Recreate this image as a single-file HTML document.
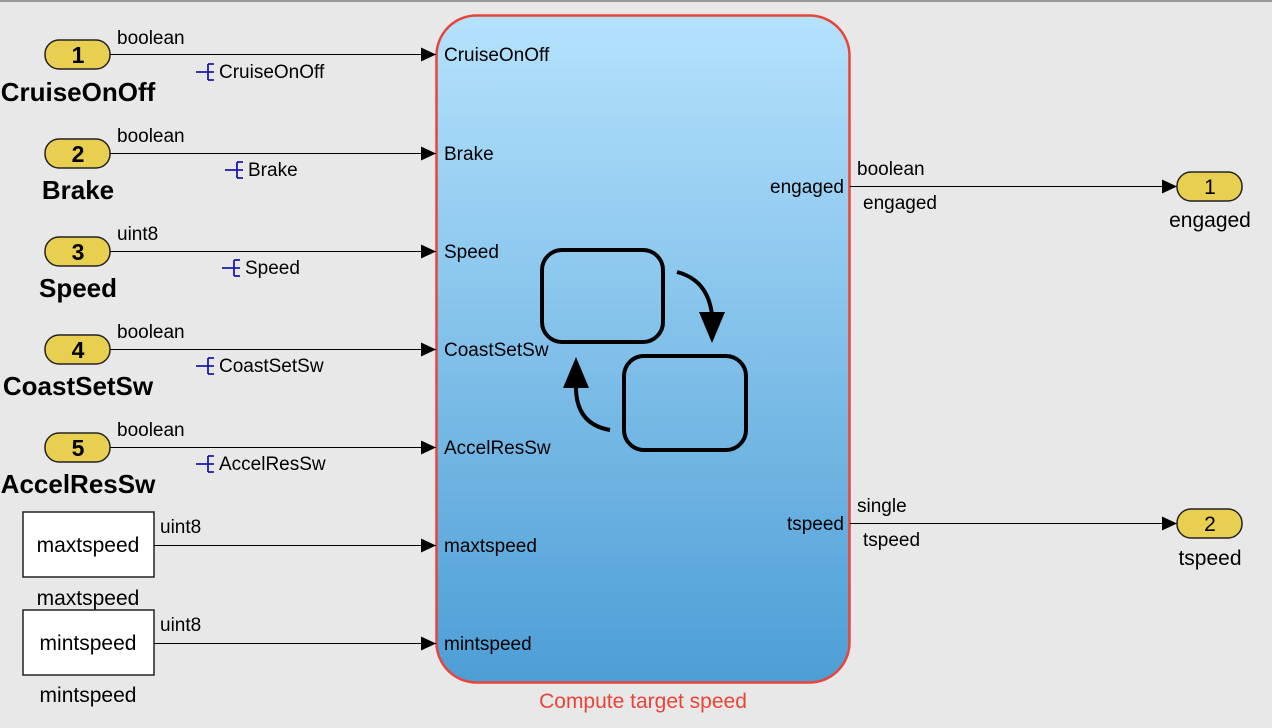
<!DOCTYPE html>
<html><head><style>
body{margin:0;background:#e8e8e8;}
svg{display:block;font-family:"Liberation Sans",sans-serif;}
</style></head><body>
<svg width="1272" height="728" viewBox="0 0 1272 728" xmlns="http://www.w3.org/2000/svg">
<defs>
<linearGradient id="g" x1="0" y1="0" x2="0" y2="1">
<stop offset="0" stop-color="#b5e2fd"/><stop offset="1" stop-color="#4d9ed6"/>
</linearGradient>
<marker id="a" markerWidth="15" markerHeight="14" refX="15" refY="7" orient="auto" markerUnits="userSpaceOnUse"><path d="M0,0 L15,7 L0,14 z" fill="#000"/></marker>
</defs>
<rect width="1272" height="728" fill="#e8e8e8"/>
<line x1="0" y1="1" x2="1272" y2="1" stroke="#999" stroke-width="2"/>
<rect x="436.5" y="15.5" width="413" height="667" rx="40" fill="url(#g)" stroke="#e8443a" stroke-width="2.5"/>
<g font-size="19" fill="#000">
<g>
<rect x="45" y="40" width="65" height="29" rx="14" fill="#e8cf50" stroke="#222" stroke-width="1.5"/>
<text x="78" y="63" text-anchor="middle" font-size="23" font-weight="bold">1</text>
<text x="78" y="101" text-anchor="middle" font-size="26" font-weight="bold">CruiseOnOff</text>
<line x1="110" y1="54.5" x2="436" y2="54.5" stroke="#000" marker-end="url(#a)"/>
<text x="117" y="44">boolean</text>
<text x="219" y="78">CruiseOnOff</text>
<text x="444" y="61">CruiseOnOff</text>
</g>
<g>
<rect x="45" y="139" width="65" height="29" rx="14" fill="#e8cf50" stroke="#222" stroke-width="1.5"/>
<text x="78" y="162" text-anchor="middle" font-size="23" font-weight="bold">2</text>
<text x="78" y="199" text-anchor="middle" font-size="26" font-weight="bold">Brake</text>
<line x1="110" y1="153.5" x2="436" y2="153.5" stroke="#000" marker-end="url(#a)"/>
<text x="117" y="142">boolean</text>
<text x="248" y="176">Brake</text>
<text x="444" y="160">Brake</text>
</g>
<g>
<rect x="45" y="237" width="65" height="29" rx="14" fill="#e8cf50" stroke="#222" stroke-width="1.5"/>
<text x="78" y="260" text-anchor="middle" font-size="23" font-weight="bold">3</text>
<text x="78" y="297" text-anchor="middle" font-size="26" font-weight="bold">Speed</text>
<line x1="110" y1="251.5" x2="436" y2="251.5" stroke="#000" marker-end="url(#a)"/>
<text x="117" y="240">uint8</text>
<text x="245" y="274">Speed</text>
<text x="444" y="258">Speed</text>
</g>
<g>
<rect x="45" y="335" width="65" height="29" rx="14" fill="#e8cf50" stroke="#222" stroke-width="1.5"/>
<text x="78" y="358" text-anchor="middle" font-size="23" font-weight="bold">4</text>
<text x="78" y="395" text-anchor="middle" font-size="26" font-weight="bold">CoastSetSw</text>
<line x1="110" y1="349.5" x2="436" y2="349.5" stroke="#000" marker-end="url(#a)"/>
<text x="117" y="338">boolean</text>
<text x="219" y="372">CoastSetSw</text>
<text x="444" y="356">CoastSetSw</text>
</g>
<g>
<rect x="45" y="433" width="65" height="29" rx="14" fill="#e8cf50" stroke="#222" stroke-width="1.5"/>
<text x="78" y="456" text-anchor="middle" font-size="23" font-weight="bold">5</text>
<text x="78" y="493" text-anchor="middle" font-size="26" font-weight="bold">AccelResSw</text>
<line x1="110" y1="447.5" x2="436" y2="447.5" stroke="#000" marker-end="url(#a)"/>
<text x="117" y="436">boolean</text>
<text x="219" y="470">AccelResSw</text>
<text x="444" y="454">AccelResSw</text>
</g>
<g stroke="#1a1aa8" stroke-width="1.8" fill="none">
<path d="M196,72 H208 M208,64 V80 M208,64 H214 M208,72 H214 M208,80 H214"/>
<path d="M225,170 H237 M237,162 V178 M237,162 H243 M237,170 H243 M237,178 H243"/>
<path d="M222,268 H234 M234,260 V276 M234,260 H240 M234,268 H240 M234,276 H240"/>
<path d="M196,366 H208 M208,358 V374 M208,358 H214 M208,366 H214 M208,374 H214"/>
<path d="M196,464 H208 M208,456 V472 M208,456 H214 M208,464 H214 M208,472 H214"/>
</g>
<rect x="23" y="512" width="131" height="65" fill="#fff" stroke="#222" stroke-width="1.5"/>
<text x="88" y="552" text-anchor="middle" font-size="21">maxtspeed</text>
<text x="88" y="605" text-anchor="middle" font-size="21">maxtspeed</text>
<line x1="154" y1="545.5" x2="436" y2="545.5" stroke="#000" marker-end="url(#a)"/>
<text x="160" y="533">uint8</text>
<text x="444" y="552">maxtspeed</text>
<rect x="23" y="610" width="131" height="65" fill="#fff" stroke="#222" stroke-width="1.5"/>
<text x="88" y="650" text-anchor="middle" font-size="21">mintspeed</text>
<text x="88" y="702" text-anchor="middle" font-size="21">mintspeed</text>
<line x1="154" y1="643.5" x2="436" y2="643.5" stroke="#000" marker-end="url(#a)"/>
<text x="160" y="631">uint8</text>
<text x="444" y="650">mintspeed</text>
<text x="844" y="193" text-anchor="end">engaged</text>
<line x1="850" y1="186.5" x2="1177" y2="186.5" stroke="#000" marker-end="url(#a)"/>
<text x="857" y="175">boolean</text>
<text x="863" y="209">engaged</text>
<rect x="1177" y="172" width="65" height="29" rx="14" fill="#e8cf50" stroke="#222" stroke-width="1.5"/>
<text x="1210" y="194" text-anchor="middle" font-size="21">1</text>
<text x="1210" y="227" text-anchor="middle" font-size="21">engaged</text>
<text x="844" y="530" text-anchor="end">tspeed</text>
<line x1="850" y1="523.5" x2="1177" y2="523.5" stroke="#000" marker-end="url(#a)"/>
<text x="857" y="512">single</text>
<text x="863" y="546">tspeed</text>
<rect x="1177" y="509" width="65" height="29" rx="14" fill="#e8cf50" stroke="#222" stroke-width="1.5"/>
<text x="1210" y="531" text-anchor="middle" font-size="21">2</text>
<text x="1210" y="565" text-anchor="middle" font-size="21">tspeed</text>
<text x="643" y="708" text-anchor="middle" font-size="21" fill="#e8443a">Compute target speed</text>
</g>
<g fill="none" stroke="#000" stroke-width="4">
<rect x="542" y="250" width="121" height="92" rx="20"/>
<rect x="624" y="356" width="122" height="94" rx="20"/>
<path d="M677,272 Q708,280 712,315"/>
<path d="M610,430 Q575,424 576,385"/>
</g>
<path d="M699,312 L725,312 L712,343 z" fill="#000"/>
<path d="M563,388 L589,388 L576,357 z" fill="#000"/>
</svg>
</body></html>
